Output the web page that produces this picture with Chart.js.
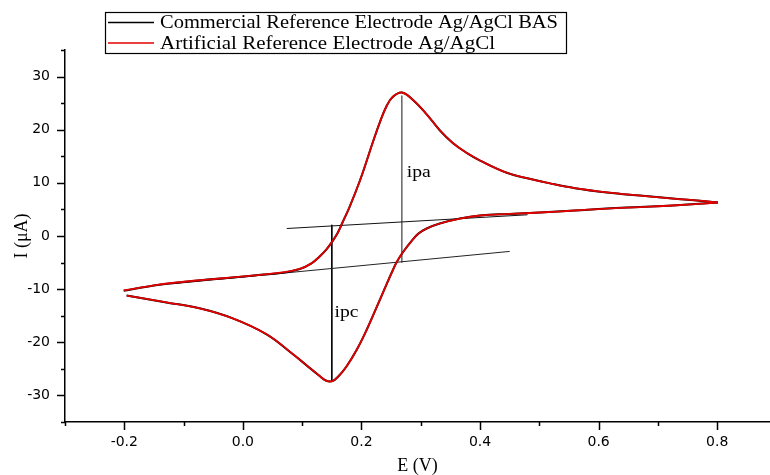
<!DOCTYPE html>
<html>
<head>
<meta charset="utf-8">
<script src="https://cdn.jsdelivr.net/npm/chart.js@4"></script>
<style>
    body { margin: 0; background: #fff; }
    #wrap { width: 770px; height: 475px; }
</style>
</head>
<body>
<div id="wrap"><canvas id="cv" width="770" height="475"></canvas></div>
<script>
// ====== Data ======
// anodic sweep, -0.2 V -> 0.8 V
const forwardE = [-0.201, -0.15, -0.112, -0.06, -0.017, 0.03, 0.067, 0.096, 0.115, 0.129, 0.141,
    0.151, 0.16, 0.168, 0.18, 0.197, 0.209, 0.219, 0.231, 0.243, 0.253, 0.268, 0.286, 0.31,
    0.332, 0.354, 0.378, 0.4, 0.445, 0.48, 0.518, 0.56, 0.614, 0.67, 0.725, 0.765, 0.801];
const artificialFwdI = [-10.25, -9.3, -8.75, -8.2, -7.8, -7.3, -6.86, -6.2, -5.2, -3.9, -2.5,
    -1.0, 0.6, 2.54, 5.5, 10.3, 14.2, 17.6, 21.4, 24.6, 26.2, 27.0, 25.7, 22.9,
    19.9, 17.5, 15.6, 14.2, 11.9, 10.85, 9.9, 9.0, 8.2, 7.6, 7.05, 6.7, 6.3];
const commercialFwdI = [-10.3, -9.3, -8.8, -8.2, -7.8, -7.3, -6.9, -6.2, -5.2, -3.9, -2.5,
    -1.0, 0.6, 2.54, 5.5, 10.3, 14.2, 17.6, 21.4, 24.6, 26.2, 27.0, 25.7, 22.9,
    19.9, 17.5, 15.6, 14.2, 11.9, 10.85, 9.9, 9.0, 8.2, 7.6, 7.05, 6.7, 6.3];

// cathodic sweep, 0.8 V -> -0.2 V
const reverseE = [0.801, 0.725, 0.67, 0.614, 0.56, 0.501, 0.45, 0.4, 0.366, 0.332, 0.31, 0.296,
    0.286, 0.269, 0.259, 0.253, 0.243, 0.231, 0.226, 0.209, 0.192, 0.175, 0.162, 0.151,
    0.14, 0.129, 0.107, 0.084, 0.04, -0.017, -0.073, -0.129, -0.196];
const artificialRevI = [6.3, 5.74, 5.45, 5.17, 4.8, 4.42, 4.15, 3.86, 3.29, 2.35, 1.41, 0.45,
    -0.75, -3.2, -5.0, -6.4, -8.9, -12.0, -13.3, -17.6, -21.4, -24.5, -26.3, -27.3,
    -27.2, -26.3, -24.3, -22.2, -18.5, -15.5, -13.6, -12.5, -11.2];
const commercialRevI = [6.3, 5.74, 5.45, 5.17, 4.8, 4.42, 4.15, 3.86, 3.29, 2.35, 1.41, 0.45,
    -0.75, -3.2, -5.0, -6.4, -8.9, -12.0, -13.3, -17.6, -21.4, -24.5, -26.3, -27.3,
    -27.2, -26.3, -24.3, -22.2, -18.5, -15.5, -13.6, -12.5, -11.2];

// baselines and peak-current markers
const upperBaseE = [0.074, 0.48];
const upperBaseI = [1.41, 3.99];
const lowerBaseE = [-0.12, 0.45];
const lowerBaseI = [-9.0, -2.9];
const ipaE = [0.268, 0.268];
const ipaI = [26.4, -5.0];
const ipcE = [0.15, 0.15];
const ipcI = [2.1, -27.4];

const peakLabels = ['ipa', 'ipc'];
const peakLabelE = [0.2765, 0.1545];
const peakLabelI = [12.0, -14.4];

const legendLabels = ['Commercial Reference Electrode Ag/AgCl BAS', 'Artificial Reference Electrode Ag/AgCl'];

// axis ticks
const xMajorTicks = [-0.2, 0.0, 0.2, 0.4, 0.6, 0.8];
const xMinorTicks = [-0.3, -0.1, 0.1, 0.3, 0.5, 0.7];
const yMajorTicks = [-30, -20, -10, 0, 10, 20, 30];
const yMinorTicks = [-35, -25, -15, -5, 5, 15, 25, 35];

// ====== Helpers ======
const SERIF = '"Liberation Serif", "Times New Roman", serif';
const SANS = '"DejaVu Sans", Arial, sans-serif';
const RED = '#e30000';

function toPoints(xs, ys) {
    return xs.map((x, i) => ({ x, y: ys[i] }));
}

function curve(xs, ys, color, width, order) {
    return {
        data: toPoints(xs, ys),
        borderColor: color,
        borderWidth: width,
        pointRadius: 0,
        tension: 0.4,
        showLine: true,
        fill: false,
        order
    };
}

function segment(xs, ys, color) {
    return {
        data: toPoints(xs, ys),
        borderColor: color,
        borderWidth: 1,
        pointRadius: 0,
        tension: 0,
        showLine: true,
        fill: false,
        order: 3
    };
}

// draw text squeezed/stretched to a target width
function fitText(ctx, text, x, y, width) {
    const w = ctx.measureText(text).width;
    ctx.save();
    ctx.translate(x, y);
    ctx.scale(width / w, 1);
    ctx.fillText(text, 0, 0);
    ctx.restore();
}

// ====== Plugin: ticks, legend box, peak labels ======
const decorations = {
    id: 'decorations',
    afterDraw(chart) {
        const { ctx, scales: { x, y }, chartArea } = chart;
        ctx.save();
        ctx.strokeStyle = '#000';
        ctx.lineWidth = 1.5;

        // x ticks below the axis
        ctx.beginPath();
        xMajorTicks.forEach(v => {
            const px = Math.round(x.getPixelForValue(v)) + 0.5;
            ctx.moveTo(px, chartArea.bottom); ctx.lineTo(px, chartArea.bottom + 8);
        });
        xMinorTicks.forEach(v => {
            const px = Math.round(x.getPixelForValue(v)) + 0.5;
            ctx.moveTo(px, chartArea.bottom); ctx.lineTo(px, chartArea.bottom + 4);
        });
        // y ticks left of the axis
        yMajorTicks.forEach(v => {
            const py = Math.round(y.getPixelForValue(v)) + 0.5;
            ctx.moveTo(chartArea.left, py); ctx.lineTo(chartArea.left - 8, py);
        });
        yMinorTicks.forEach(v => {
            const py = Math.round(y.getPixelForValue(v)) + 0.5;
            ctx.moveTo(chartArea.left, py); ctx.lineTo(chartArea.left - 4, py);
        });
        ctx.stroke();

        // peak labels
        ctx.fillStyle = '#000';
        ctx.font = '17px ' + SERIF;
        ctx.textBaseline = 'middle';
        ctx.textAlign = 'left';
        peakLabels.forEach((t, i) => {
            fitText(ctx, t, x.getPixelForValue(peakLabelE[i]), y.getPixelForValue(peakLabelI[i]), 24);
        });

        // legend box
        ctx.lineWidth = 1.2;
        ctx.strokeRect(105.5, 12.5, 461, 41);
        const colors = ['#000', RED];
        const widths = [398, 335];
        ctx.font = '18.5px ' + SERIF;
        legendLabels.forEach((t, i) => {
            const ly = 22.5 + i * 20.5;
            ctx.strokeStyle = colors[i];
            ctx.lineWidth = 1.5;
            ctx.beginPath();
            ctx.moveTo(108, ly); ctx.lineTo(154, ly);
            ctx.stroke();
            ctx.fillStyle = '#000';
            fitText(ctx, t, 160, ly + 1, widths[i]);
        });
        ctx.restore();
    }
};

// ====== Chart ======
new Chart(document.getElementById('cv'), {
    type: 'scatter',
    data: {
        datasets: [
            curve(forwardE, commercialFwdI, '#000', 2, 2),
            curve(reverseE, commercialRevI, '#000', 2, 2),
            curve(forwardE, artificialFwdI, RED, 1.8, 1),
            curve(reverseE, artificialRevI, RED, 1.8, 1),
            segment(upperBaseE, upperBaseI, '#111'),
            segment(lowerBaseE, lowerBaseI, '#222'),
            segment(ipaE, ipaI, '#6e6e6e'),
            segment(ipcE, ipcI, '#000')
        ]
    },
    options: {
        responsive: false,
        animation: false,
        layout: { padding: { top: 50, right: 0, bottom: 0, left: 0 } },
        plugins: {
            legend: { display: false },
            tooltip: { enabled: false }
        },
        scales: {
            x: {
                type: 'linear',
                min: -0.3,
                max: 0.889,
                grid: { display: false },
                border: { display: true, color: '#000', width: 1.5 },
                afterBuildTicks: (s) => { s.ticks = xMajorTicks.map(v => ({ value: v })); },
                ticks: {
                    padding: 4,
                    color: '#000',
                    font: { family: SANS, size: 14 },
                    maxRotation: 0,
                    callback: (v) => Number(v).toFixed(1)
                },
                title: {
                    display: true,
                    text: 'E (V)',
                    color: '#000',
                    font: { family: SERIF, size: 18, lineHeight: 1 },
                    padding: { top: 0, bottom: 0 }
                },
                afterFit: (s) => { s.height = 53; }
            },
            y: {
                min: -35,
                max: 35,
                grid: { display: false },
                border: { display: true, color: '#000', width: 1.5 },
                afterBuildTicks: (s) => { s.ticks = yMajorTicks.map(v => ({ value: v })); },
                ticks: {
                    padding: 7,
                    color: '#000',
                    font: { family: SANS, size: 14 },
                    callback: (v) => String(Math.round(v))
                },
                title: {
                    display: true,
                    text: 'I (μA)',
                    color: '#000',
                    font: { family: SERIF, size: 18, lineHeight: 1 },
                    padding: { top: 13, bottom: 0 }
                },
                afterFit: (s) => { s.width = 65; }
            }
        }
    },
    plugins: [decorations]
});
</script>
</body>
</html>
